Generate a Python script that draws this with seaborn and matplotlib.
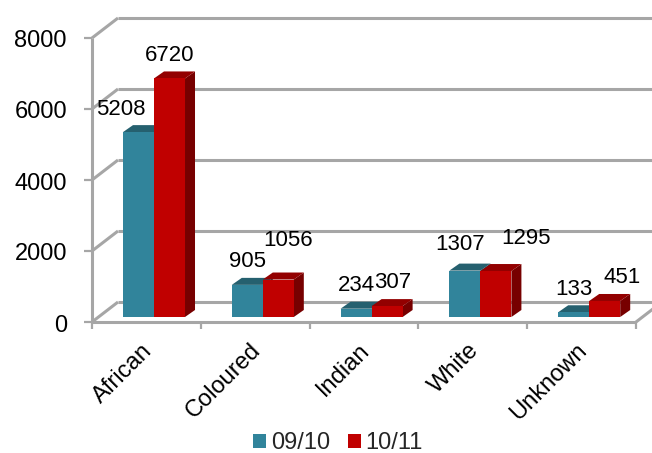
import matplotlib
matplotlib.use('Agg')
import matplotlib.pyplot as plt
from matplotlib.patches import Polygon
from matplotlib.transforms import ScaledTranslation
import pandas as pd
import seaborn as sns

categories = ['African', 'Coloured', 'Indian', 'White', 'Unknown']
vals_0910 = [5208, 905, 234, 1307, 133]
vals_1011 = [6720, 1056, 307, 1295, 451]
series_names = ['09/10', '10/11']
y_ticks = [0, 2000, 4000, 6000, 8000]

sns.set_theme(style='white')
plt.rcParams['font.family'] = ['Liberation Sans', 'DejaVu Sans']

frame = pd.DataFrame({
    'cat': categories * 2,
    'val': vals_0910 + vals_1011,
    'year': [series_names[0]] * 5 + [series_names[1]] * 5,
})

W, H = 652, 453
fig = plt.figure(figsize=(W / 100, H / 100), dpi=100)
ax = fig.add_axes([99.6 / W, (H - 317) / H, 544 / W, 284 / H])

face = {'09/10': '#31849B', '10/11': '#C00000'}
top = {'09/10': '#25606F', '10/11': '#930000'}
side = {'09/10': '#1E4E5B', '10/11': '#770000'}
gray = '#A6A6A6'

sns.barplot(data=frame, x='cat', y='val', hue='year', hue_order=series_names, palette=face,
            width=0.57, saturation=1, gap=0, ax=ax, zorder=3, legend=False,
            edgecolor='none', linewidth=0)
ax.set_xlim(-0.5, 4.5)
ax.set_ylim(0, 8000)
ax.set_xlabel('')
ax.set_ylabel('')
sns.despine(ax=ax, left=True, bottom=True)

# pixel sizes in data units
px = 1 / 108.8
py = 2000 / 71
# offset of the front edge and of the back wall from the bars
fx, fy = -7.6 * px, -5 * py
bx, by = 18.4 * px, 15 * py
x0, x1 = -0.5, 4.5

def line(xs, ys, lw=2.2, z=1):
    ax.plot(xs, ys, color=gray, lw=lw, clip_on=False, zorder=z, solid_capstyle='butt')

for v in y_ticks:
    line([x0 + bx, x1 + 0.2], [v + by, v + by])
    line([x0 + fx, x0 + bx], [v + fy, v + by])
    line([x0 + fx - 8 * px, x0 + fx], [v + fy, v + fy], lw=1.6)
line([x0 + fx, x0 + fx], [fy, 8000 + fy])
line([x0 + fx, x1 + fx], [fy, fy])
line([x1 + fx, x1 + bx], [fy, by])
for i in range(6):
    line([x0 + fx + i, x0 + fx + i], [fy, fy - 7 * py], lw=1.6)

# depth of the bars, bars read from the seaborn containers
dx, dy = 10 * px, 7 * py
for name, cont in zip(series_names, ax.containers):
    for bar in cont:
        l, r, h = bar.get_x(), bar.get_x() + bar.get_width(), bar.get_height()
        ax.add_patch(Polygon([(l, h), (l + dx, h + dy), (r + dx, h + dy), (r, h)],
                             color=top[name], lw=0, zorder=2.8))
        ax.add_patch(Polygon([(r, 0), (r + dx, dy), (r + dx, h + dy), (r, h)],
                             color=side[name], lw=0, zorder=2.5))

# value labels, offsets in pixels from the top of each bar
label_offsets = [[(-18, 23), (0, 23), (0, 23), (-5, 26), (0, 23)],
                 [(0, 23), (10, 39), (6, 24), (30, 33), (17, 23)]]
for cont, offs in zip(ax.containers, label_offsets):
    for bar, off in zip(cont, offs):
        ax.annotate(str(int(bar.get_height())), (bar.get_x() + bar.get_width() / 2, bar.get_height()),
                    xytext=off, textcoords='offset pixels', ha='center', va='center',
                    fontsize=16, color='black', zorder=5, annotation_clip=False)

ax.set_yticks(y_ticks)
ax.set_xticks(range(5))
ax.set_xticklabels(categories, rotation=45, ha='right', rotation_mode='anchor')
ax.tick_params(axis='y', length=0, pad=23.5, labelsize=17, labelcolor='black')
ax.tick_params(axis='x', length=0, pad=19, labelsize=17, labelcolor='black')
shift = ScaledTranslation(0, -6 / 100, fig.dpi_scale_trans)
for lab in ax.get_yticklabels():
    lab.set_transform(lab.get_transform() + shift)
shift_x = ScaledTranslation(-13 / 100, 4 / 100, fig.dpi_scale_trans)
for lab in ax.get_xticklabels():
    lab.set_transform(lab.get_transform() + shift_x)

handles = [plt.Rectangle((0, 0), 1, 1, color=face[s], lw=0) for s in series_names]
fig.legend(handles, series_names, loc='center', bbox_to_anchor=(338 / W, 1 - 443 / H), ncol=2,
           frameon=False, fontsize=17, handlelength=0.55, handleheight=0.55, handletextpad=0.2,
           columnspacing=0.76, borderpad=0, borderaxespad=0)

fig.savefig('out.png', dpi=100)
